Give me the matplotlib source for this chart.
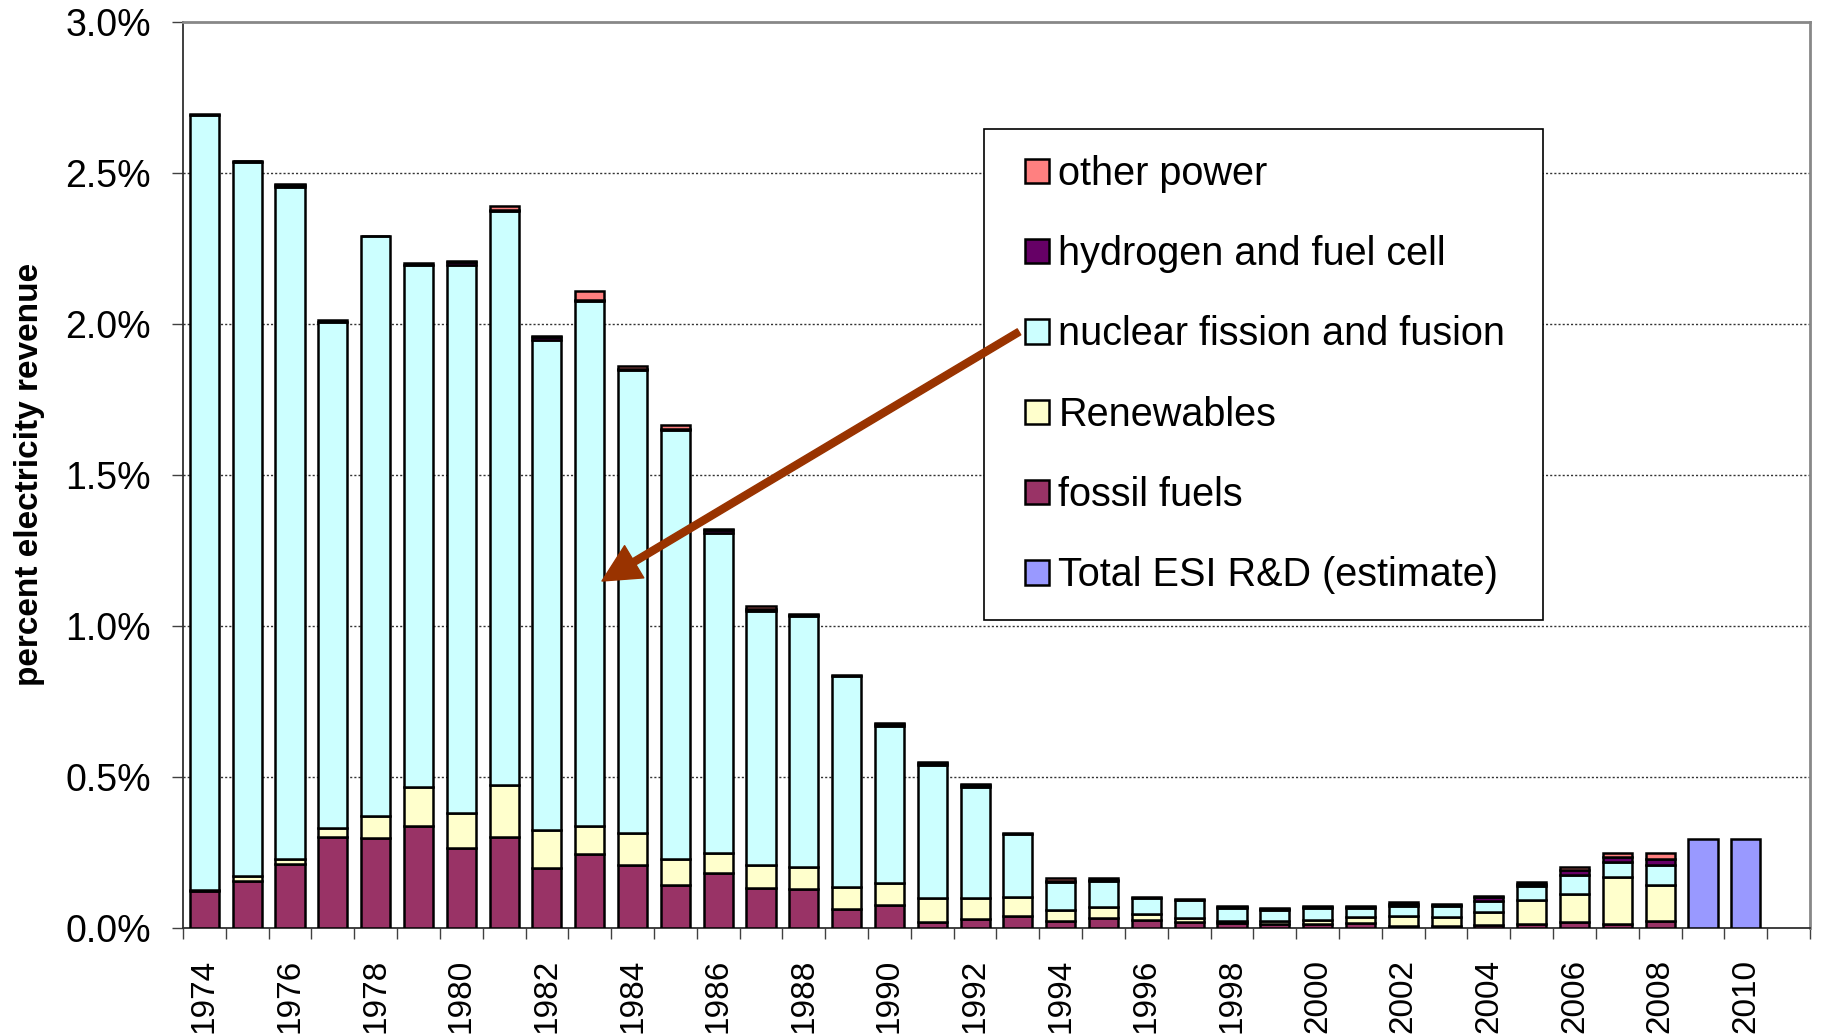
import numpy as np
import matplotlib
matplotlib.use("Agg")
import matplotlib.pyplot as plt
from matplotlib.patches import Patch, Rectangle
from matplotlib.legend_handler import HandlerPatch

plt.rcParams['font.family'] = ['Liberation Sans', 'DejaVu Sans']

years = list(range(1974, 2012))  # 2011 slot left empty

fossil = [0.123, 0.157, 0.213, 0.300, 0.297, 0.338, 0.265, 0.302, 0.199, 0.244,
          0.207, 0.141, 0.183, 0.131, 0.128, 0.064, 0.077, 0.020, 0.031, 0.041,
          0.022, 0.034, 0.025, 0.020, 0.015, 0.012, 0.012, 0.015, 0.008, 0.008,
          0.011, 0.014, 0.020, 0.014, 0.023, 0.0, 0.0, 0.0]
renewables = [0.003, 0.014, 0.017, 0.030, 0.075, 0.129, 0.116, 0.170, 0.126, 0.094,
              0.106, 0.087, 0.066, 0.076, 0.074, 0.072, 0.071, 0.080, 0.069, 0.063,
              0.036, 0.036, 0.020, 0.014, 0.008, 0.010, 0.014, 0.020, 0.033, 0.027,
              0.043, 0.080, 0.094, 0.155, 0.118, 0.0, 0.0, 0.0]
nuclear = [2.567, 2.364, 2.225, 1.678, 1.918, 1.729, 1.813, 1.901, 1.623, 1.737,
           1.535, 1.420, 1.060, 0.844, 0.830, 0.698, 0.521, 0.441, 0.367, 0.208,
           0.093, 0.084, 0.055, 0.058, 0.043, 0.036, 0.040, 0.031, 0.031, 0.037,
           0.037, 0.046, 0.061, 0.048, 0.069, 0.0, 0.0, 0.0]
hydrogen = [0.002, 0.004, 0.006, 0.006, 0.003, 0.005, 0.010, 0.006, 0.010, 0.005,
            0.004, 0.004, 0.008, 0.006, 0.006, 0.005, 0.007, 0.006, 0.007, 0.004,
            0.005, 0.005, 0.004, 0.003, 0.005, 0.005, 0.005, 0.005, 0.006, 0.005,
            0.010, 0.007, 0.016, 0.018, 0.018, 0.0, 0.0, 0.0]
other = [0.0, 0.002, 0.003, 0.0, 0.0, 0.0, 0.003, 0.012, 0.002, 0.030,
         0.008, 0.015, 0.004, 0.010, 0.002, 0.0, 0.002, 0.002, 0.003, 0.0,
         0.011, 0.008, 0.0, 0.0, 0.002, 0.002, 0.003, 0.003, 0.008, 0.002,
         0.006, 0.004, 0.012, 0.014, 0.020, 0.0, 0.0, 0.0]
total_esi = [0.0] * 35 + [0.296, 0.296, 0.0]

series = [
    ("fossil fuels", fossil, "#993366"),
    ("Renewables", renewables, "#FFFFCC"),
    ("nuclear fission and fusion", nuclear, "#CCFFFF"),
    ("hydrogen and fuel cell", hydrogen, "#660066"),
    ("other power", other, "#FF8080"),
]
esi_label = "Total ESI R&D (estimate)"
esi_color = "#9999FF"

fig = plt.figure(figsize=(18.23, 10.35), dpi=100)
ax = fig.add_axes([183 / 1823, 1 - 928 / 1035, 1627 / 1823, 906 / 1035])

x = np.arange(len(years))
bw = 0.68
bottom = np.zeros(len(years))
for name, vals, col in series:
    v = np.array(vals)
    m = v > 0
    ax.bar(x[m], v[m], bw, bottom=bottom[m], color=col, edgecolor="black",
           linewidth=1.8, zorder=3)
    bottom += v
tv = np.array(total_esi)
m = tv > 0
ax.bar(x[m], tv[m], bw, color=esi_color, edgecolor="black", linewidth=1.8, zorder=3)

ax.set_xlim(-0.5, len(years) - 0.5)
ax.set_ylim(0, 3.0)

# y axis
yt = np.arange(0, 3.01, 0.5)
ax.set_yticks(yt)
ax.set_yticklabels([f"{v:.1f}%" for v in yt], fontsize=27)
ax.tick_params(axis='y', length=8, width=1, color='#404040', pad=15)
for v in yt[1:-1]:
    ax.axhline(v, color='#333333', lw=1, linestyle=(0, (1.5, 1.5)), zorder=1)

# x axis: ticks at boundaries, labels at centers (even years)
ax.set_xticks(np.arange(-0.5, len(years), 1))
ax.set_xticklabels([])
ax.tick_params(axis='x', which='major', length=8, width=1, color='#404040')
lab_pos = [i for i, y in enumerate(years) if y % 2 == 0 and y <= 2010]
ax.set_xticks(lab_pos, minor=True)
ax.set_xticklabels([str(years[i]) for i in lab_pos], minor=True, rotation=90,
                   fontsize=24)
ax.tick_params(axis='x', which='minor', length=0, pad=22)

for s in ['left', 'bottom']:
    ax.spines[s].set_color('#303030')
    ax.spines[s].set_linewidth(1.3)
for s in ['top', 'right']:
    ax.spines[s].set_color('#888888')
    ax.spines[s].set_linewidth(2)

fig.text(30 / 1823, 1 - 474 / 1035, "percent electricity revenue", rotation=90,
         ha='center', va='center', fontsize=24, fontweight='bold',
         family=['Liberation Sans Narrow', 'Liberation Sans', 'DejaVu Sans'])

# legend
def square_patch(legend, orig_handle, xdescent, ydescent, width, height, fontsize):
    s = 17.5
    return Rectangle((-xdescent + width - s, -ydescent + (height - s) / 2), s, s)

handles = [Patch(facecolor=c, edgecolor='black', linewidth=1.8, label=n)
           for n, _, c in series[::-1]]
handles.append(Patch(facecolor=esi_color, edgecolor='black', linewidth=1.8,
                     label=esi_label))
leg = ax.legend(handles=handles, loc='upper left',
                bbox_to_anchor=(0.4923, 0.30, 0.3436, 0.5819), mode='expand',
                borderaxespad=0, fontsize=28.5, frameon=True, fancybox=False,
                framealpha=1, edgecolor='black', borderpad=0.65,
                handlelength=1.0, handletextpad=0.23, labelspacing=1.07,
                handler_map={Patch: HandlerPatch(patch_func=square_patch)})
leg.get_frame().set_linewidth(1.2)
leg.set_zorder(5)

# arrow
ax.annotate('', xy=(9.286, 1.149), xytext=(19.025, 1.974),
            arrowprops=dict(width=5, headwidth=27, headlength=27, shrink=0,
                            facecolor='#993300', edgecolor='#993300'),
            zorder=6)

fig.savefig("out.png", dpi=100)
